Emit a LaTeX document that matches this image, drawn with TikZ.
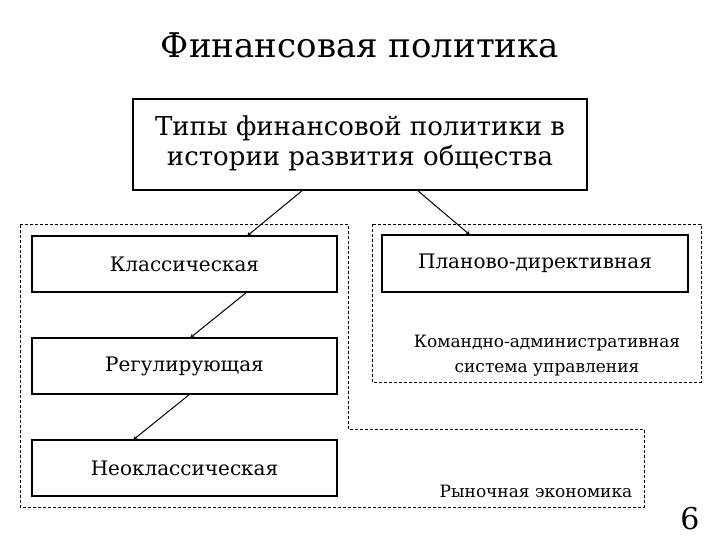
\documentclass[tikz,border=0pt]{standalone}
\usepackage{fontspec}
\newfontfamily\fa{Liberation Serif}
\newfontfamily\fb{DejaVu Serif}
\newfontfamily\fc{Liberation Sans}
\tikzset{
	typebox/.style={draw, line width=1.2pt, inner sep=0, outer sep=0, align=center},
	zone/.style={draw, dashed, line width=0.8pt, dash pattern=on 3pt off 2pt}
}
\begin{document}
\begin{tikzpicture}[->,>=stealth,x=1pt,y=-1pt,line width=1pt]
	\useasboundingbox (0,0) rectangle (720,540);
	% zones
	\draw[zone,-] (20,224) -- (348,224) -- (348,429) -- (644,429) -- (644,507) -- (20,507) -- cycle;
	\draw[zone,-] (372,224) rectangle (701,382);
	\node (title) at (360, 45) {\fontsize{34}{40}\selectfont\fb Финансовая политика};
	\node[typebox, minimum width=454, minimum height=91] (types) at (360, 144.5) {\fontsize{26}{30}\selectfont\fb\begin{tabular}{@{}c@{}} Типы финансовой политики в \\ истории развития общества\end{tabular}};
	\node[typebox, minimum width=305, minimum height=56] (klass) at (184.5, 264) {\fontsize{20}{24}\selectfont\fb Классическая};
	\node[typebox, minimum width=305, minimum height=56] (regul) at (184.5, 366) {\fontsize{20}{24}\selectfont\fb Регулирующая};
	\node[typebox, minimum width=305, minimum height=56] (neo) at (184.5, 468) {\fontsize{20}{24}\selectfont\fb Неоклассическая};
	\node[typebox, minimum width=306, minimum height=57] (plan) at (535, 263.5) {\fontsize{20}{24}\selectfont\fb Планово-директивная};
	\node (komand) at (547, 355) {\fontsize{17}{25}\selectfont\fb\begin{tabular}{@{}c@{}} Командно-административная \\ система управления\end{tabular}};
	\node (rynok) at (536, 491) {\fontsize{17}{20}\selectfont\fb Рыночная экономика};
	\node (page) at (690, 519) {\fontsize{30}{36}\selectfont\fb 6};
	%\path (types) edge (klass);
	\path ([xshift=-57]types.south) edge ([xshift=62.5]klass.north);
	\path ([xshift=57]types.south) edge ([xshift=-65]plan.north);
	\path ([xshift=62.5]klass.south) edge ([xshift=5.5]regul.north);
	\path ([xshift=5.5]regul.south) edge ([xshift=-51.5]neo.north);
\end{tikzpicture}
\end{document}
